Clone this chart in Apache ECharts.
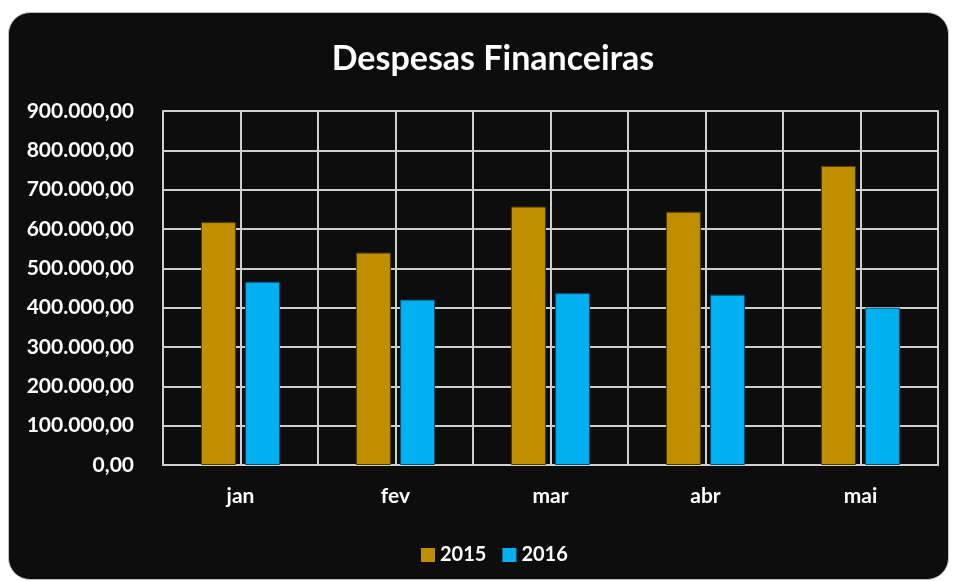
<!DOCTYPE html>
<html>
<head>
<meta charset="utf-8">
<script src="https://cdn.jsdelivr.net/npm/echarts@6/dist/echarts.min.js"></script>
<style>
  html, body { margin: 0; padding: 0; background: #ffffff; }
  #panel {
    position: absolute; left: 8px; top: 12px; width: 939px; height: 566px;
    background: #0d0d0d; border: 1px solid #bfbfbf; border-radius: 22px;
  }
  #chart { position: absolute; left: 0; top: 0; width: 955px; height: 581px; }
</style>
</head>
<body>
<div id="panel"></div>
<div id="chart"></div>
<script>
// dados do gráfico
let meses = ["jan", "fev", "mar", "abr", "mai"];
let valores2015 = [617500, 540000, 657000, 644000, 760500];
let valores2016 = [466000, 420500, 437000, 433000, 400000];
let anos = ["2015", "2016"];

let fonte = "Lato, 'Open Sans', sans-serif";
let corGrade = "#cfcfcf";

function formatarBR(v) {
  // 900000 -> 900.000,00
  let s = Math.round(v).toString().replace(/\B(?=(\d{3})+(?!\d))/g, ".");
  return s + ",00";
}

let myChart = echarts.init(document.getElementById("chart"));
let option = {
  backgroundColor: "transparent",
  animation: false,
  title: {
    text: "Despesas Financeiras",
    left: 488,
    top: 37,
    textAlign: "center",
    textStyle: { color: "#ffffff", fontFamily: fonte, fontWeight: "bold", fontSize: 34 },
  },
  legend: {
    data: anos,
    left: 416,
    top: 540,
    itemWidth: 14,
    itemHeight: 14,
    itemGap: 16,
    icon: "rect",
    itemStyle: { borderWidth: 0 },
    textStyle: { color: "#ffffff", fontFamily: fonte, fontWeight: "bold", fontSize: 20 },
  },
  grid: { left: 163, right: 17, top: 111, bottom: 116, containLabel: false },
  xAxis: [
    {
      type: "category",
      data: meses,
      boundaryGap: true,
      axisLine: { show: true, lineStyle: { color: corGrade, width: 2 } },
      axisTick: { show: false },
      axisLabel: { color: "#ffffff", fontFamily: fonte, fontWeight: "bold", fontSize: 21, margin: 21 },
      splitLine: { show: true, lineStyle: { color: corGrade, width: 2 } },
    },
    {
      // linhas verticais no meio de cada categoria
      type: "value",
      min: 0,
      max: 10,
      interval: 1,
      position: "top",
      axisLine: { show: true, lineStyle: { color: corGrade, width: 2 } },
      axisTick: { show: false },
      axisLabel: { show: false },
      splitLine: { show: true, lineStyle: { color: corGrade, width: 2 } },
    },
  ],
  yAxis: [
    {
      type: "value",
      min: 0,
      max: 900000,
      interval: 100000,
      axisLine: { show: true, lineStyle: { color: corGrade, width: 2 } },
      axisTick: { show: false },
      axisLabel: {
        color: "#ffffff",
        fontFamily: fonte,
        fontWeight: "bold",
        fontSize: 21,
        margin: 29,
        formatter: formatarBR,
      },
      splitLine: { show: true, lineStyle: { color: corGrade, width: 2 } },
    },
    {
      type: "value",
      min: 0,
      max: 900000,
      interval: 100000,
      position: "right",
      axisLine: { show: true, lineStyle: { color: corGrade, width: 2 } },
      axisTick: { show: false },
      axisLabel: { show: false },
      splitLine: { show: false },
    },
  ],
  series: [
    {
      name: "2015",
      type: "bar",
      data: valores2015,
      barWidth: 35,
      barGap: "26%",
      itemStyle: { color: "#bf8f00", borderColor: "#4d3b00", borderWidth: 1 },
    },
    {
      name: "2016",
      type: "bar",
      data: valores2016,
      barWidth: 35,
      itemStyle: { color: "#00b0f0", borderColor: "#0a4e6b", borderWidth: 1 },
    },
  ],
};
myChart.setOption(option);
window.addEventListener("resize", () => {
  myChart.resize();
});
</script>
</body>
</html>
